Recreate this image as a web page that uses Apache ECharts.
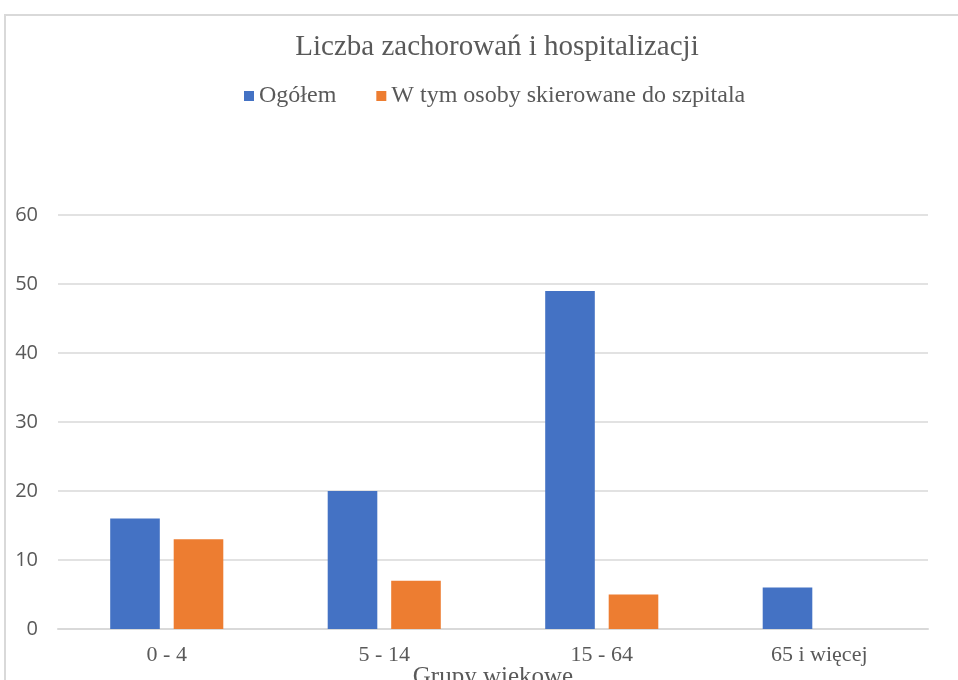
<!DOCTYPE html>
<html>
<head>
<meta charset="utf-8">
<script src="https://cdn.jsdelivr.net/npm/echarts@6/dist/echarts.min.js"></script>
<style>
html,body{margin:0;padding:0;background:#fff;}
#chart{width:958px;height:680px;}
</style>
</head>
<body>
<div id="chart"></div>
<script>
const categories = ['0 - 4', '5 - 14', '15 - 64', '65 i więcej'];
const ogolem = [16, 20, 49, 6];
const szpital = [13, 7, 5, 0];
const yTicks = { min: 0, max: 60, interval: 10 };

const chart = echarts.init(document.getElementById('chart'));
chart.setOption({
  backgroundColor: '#ffffff',
  animation: false,
  graphic: [{
    type: 'rect',
    shape: { x: 5, y: 15, width: 1000, height: 720 },
    style: { fill: 'none', stroke: '#d9d9d9', lineWidth: 2 },
    silent: true
  }],
  title: {
    text: 'Liczba zachorowań i hospitalizacji',
    left: 492, textAlign: 'center', top: 28,
    textStyle: { fontFamily: 'Liberation Serif', fontSize: 29, fontWeight: 'normal', color: '#595959' }
  },
  legend: {
    data: ['Ogółem', 'W tym osoby skierowane do szpitala'],
    left: 239, top: 79,
    icon: 'rect', itemWidth: 10, itemHeight: 10, itemGap: 40,
    textStyle: { fontFamily: 'Liberation Serif', fontSize: 24, color: '#595959' }
  },
  grid: { left: 58, right: 30, top: 215, bottom: 51, containLabel: false, outerBoundsMode: 'none' },
  xAxis: {
    type: 'category',
    data: categories,
    name: 'Grupy wiekowe',
    nameLocation: 'middle',
    nameGap: 36,
    nameMoveOverlap: false,
    nameTextStyle: { fontFamily: 'Liberation Serif', fontSize: 25, color: '#595959' },
    axisLine: { lineStyle: { color: '#d9d9d9', width: 2 } },
    axisTick: { show: false },
    axisLabel: { fontFamily: 'Liberation Serif', fontSize: 22, color: '#595959', margin: 15 }
  },
  yAxis: {
    type: 'value',
    min: yTicks.min, max: yTicks.max, interval: yTicks.interval,
    axisLine: { show: false },
    axisTick: { show: false },
    splitLine: { lineStyle: { color: '#d9d9d9', width: 1.5 } },
    axisLabel: { fontFamily: 'Open Sans', fontSize: 20, color: '#595959', margin: 20 }
  },
  series: [
    { name: 'Ogółem', type: 'bar', data: ogolem, itemStyle: { color: '#4472C4' }, barGap: '28%', barCategoryGap: '48%' },
    { name: 'W tym osoby skierowane do szpitala', type: 'bar', data: szpital, itemStyle: { color: '#ED7D31' } }
  ]
});
</script>
</body>
</html>
